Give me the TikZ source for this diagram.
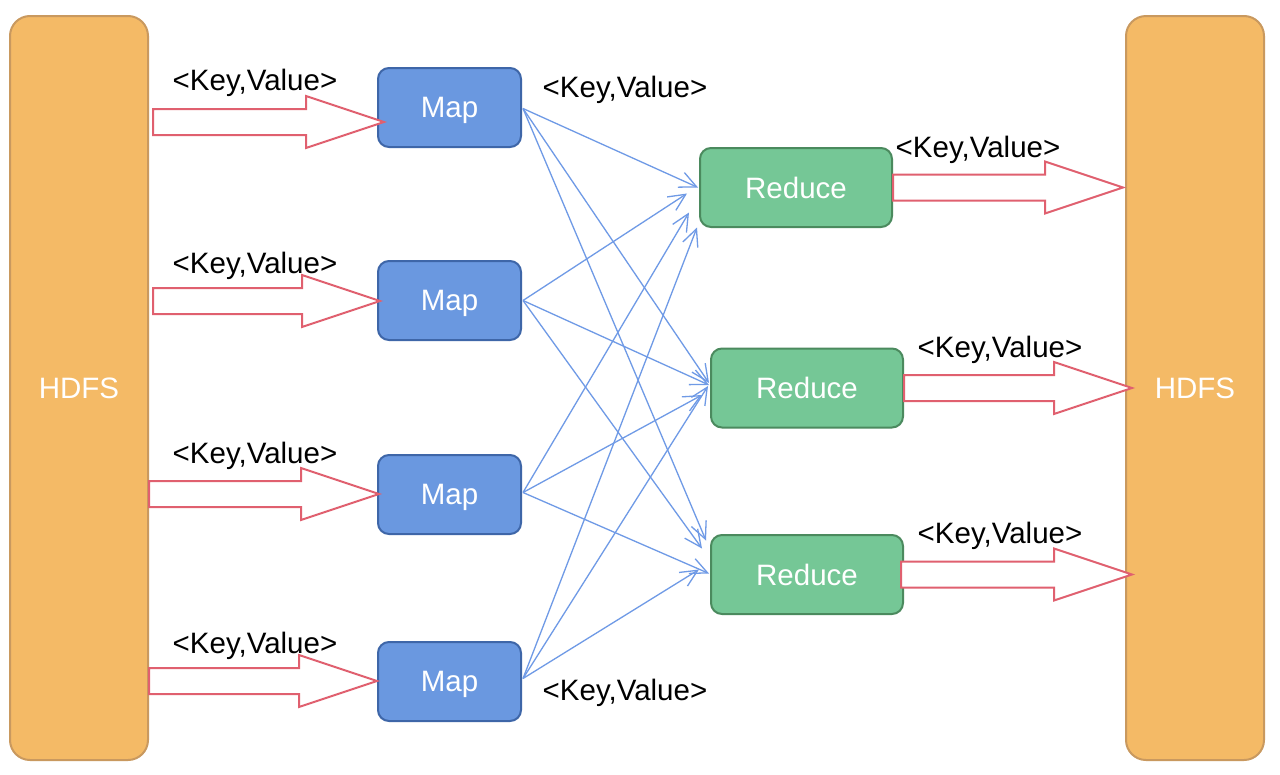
\documentclass[tikz,border=0pt]{standalone}
\usepackage{fontspec}
\setmainfont{Liberation Sans}
\usetikzlibrary{arrows.meta,calc}
\definecolor{hdfsfill}{HTML}{F4BA66}
\definecolor{hdfsdraw}{HTML}{C9995F}
\definecolor{mapfill}{HTML}{6A98E0}
\definecolor{mapdraw}{HTML}{3E66A8}
\definecolor{redfill}{HTML}{75C796}
\definecolor{reddraw}{HTML}{4B8A5E}
\definecolor{fatred}{HTML}{E0606F}
\definecolor{linkblue}{HTML}{6F9AE6}
\newcommand\fatarrow[2]{%
  \draw[bigarrow] let \p1=#1, \p2=#2 in
    (\x1,\y2+13pt) -- (\x2-78pt,\y2+13pt) -- (\x2-78pt,\y2+26pt) -- (\x2,\y2)
    -- (\x2-78pt,\y2-26pt) -- (\x2-78pt,\y2-13pt) -- (\x1,\y2-13pt) -- cycle;}
\tikzset{
  bigfont/.style={font=\fontsize{29.5}{34}\selectfont, text depth=0pt},
  hdfs/.style={draw=hdfsdraw, fill=hdfsfill, line width=2pt, rounded corners=20pt,
    minimum width=138pt, minimum height=744pt, text=white, bigfont, inner sep=0pt},
  mapbox/.style={draw=mapdraw, fill=mapfill, line width=2pt, rounded corners=11pt,
    minimum width=143pt, minimum height=79pt, text=white, bigfont, inner sep=0pt},
  redbox/.style={draw=reddraw, fill=redfill, line width=2pt, rounded corners=11pt,
    minimum width=192pt, minimum height=79pt, text=white, bigfont, inner sep=0pt},
  kv/.style={bigfont, text=black, inner sep=0pt},
  bigarrow/.style={draw=fatred, fill=white, line width=2pt, line join=miter},
  link/.style={draw=linkblue, line width=1.3pt,
    -{Straight Barb[length=17pt, width=16pt, line width=1.3pt]}},
}
\begin{document}
\begin{tikzpicture}[x=1pt,y=-1pt]
\useasboundingbox[fill=white] (0,0) rectangle (1280,774);
% HDFS blocks
\node[hdfs] (h1) at (79,388) {HDFS};
\node[hdfs] (h2) at (1195,388) {HDFS};
% Map boxes
\node[mapbox] (m1) at (449.5,107.5) {Map};
\node[mapbox] (m2) at (449.5,300.5) {Map};
\node[mapbox] (m3) at (449.5,494.5) {Map};
\node[mapbox] (m4) at (449.5,681.5) {Map};
% Reduce boxes
\node[redbox] (r1) at (796,187.5) {Reduce};
\node[redbox] (r2) at (807,388) {Reduce};
\node[redbox] (r3) at (807,574.5) {Reduce};
% labels
\node[kv] (k1) at (255,80) {<Key,Value>};
\node[kv] (k2) at (255,263) {<Key,Value>};
\node[kv] (k3) at (255,453) {<Key,Value>};
\node[kv] (k4) at (255,643) {<Key,Value>};
\node[kv] (k5) at (625,87) {<Key,Value>};
\node[kv] (k6) at (625,690) {<Key,Value>};
\node[kv] (k7) at (978,147) {<Key,Value>};
\node[kv] (k8) at (1000,347) {<Key,Value>};
\node[kv] (k9) at (1000,533) {<Key,Value>};
% fat arrows
\coordinate (a1s) at ($(h1.east |- m1.west)+(4,14.5)$);
\coordinate (a1t) at ($(m1.west)+(7,14.5)$);
\coordinate (a2s) at ($(h1.east |- m2.west)+(4,0.5)$);
\coordinate (a2t) at ($(m2.west)+(3,0.5)$);
\coordinate (a3s) at ($(h1.east |- m3.west)+(0,-0.5)$);
\coordinate (a3t) at ($(m3.west)+(2,-0.5)$);
\coordinate (a4s) at ($(h1.east |- m4.west)+(0,-0.5)$);
\coordinate (a4t) at ($(m4.west)+(0,-0.5)$);
\fatarrow{(a1s)}{(a1t)}
\fatarrow{(a2s)}{(a2t)}
\fatarrow{(a3s)}{(a3t)}
\fatarrow{(a4s)}{(a4t)}
\coordinate (b1s) at (r1.east);
\coordinate (b1t) at ($(h2.west |- r1.east)+(-2,0)$);
\coordinate (b2s) at (r2.east);
\coordinate (b2t) at ($(h2.west |- r2.east)+(7,0)$);
\coordinate (b3s) at ($(r3.east)+(-3,0)$);
\coordinate (b3t) at ($(h2.west |- r3.east)+(7,0)$);
\fatarrow{(b1s)}{(b1t)}
\fatarrow{(b2s)}{(b2t)}
\fatarrow{(b3s)}{(b3t)}
% map -> reduce links
\draw[link] ($(m1.east)+(1,1)$) -- ($(r1.west)+(-1,0)$);
\draw[link] ($(m1.east)+(1,1)$) -- ($(r2.west)+(-1,-5)$);
\draw[link] ($(m1.east)+(1,1)$) -- ($(r3.west)+(-4,-34)$);
\draw[link] ($(m2.east)+(1,0)$) -- ($(r1.west)+(-12,6)$);
\draw[link] ($(m2.east)+(1,0)$) -- ($(r2.west)+(-1,-3)$);
\draw[link] ($(m2.east)+(1,0)$) -- ($(r3.west)+(-8,-26)$);
\draw[link] ($(m3.east)+(1,-2)$) -- ($(r1.west)+(-10,25)$);
\draw[link] ($(m3.east)+(1,-2)$) -- ($(r2.west)+(-8,7)$);
\draw[link] ($(m3.east)+(1,-2)$) -- ($(r3.west)+(-1,-1)$);
\draw[link] ($(m4.east)+(1,-3)$) -- ($(r1.west)+(-2,40)$);
\draw[link] ($(m4.east)+(1,-3)$) -- ($(r2.west)+(-2,-2)$);
\draw[link] ($(m4.east)+(1,-3)$) -- ($(r3.west)+(-11,-5)$);
\end{tikzpicture}
\end{document}
